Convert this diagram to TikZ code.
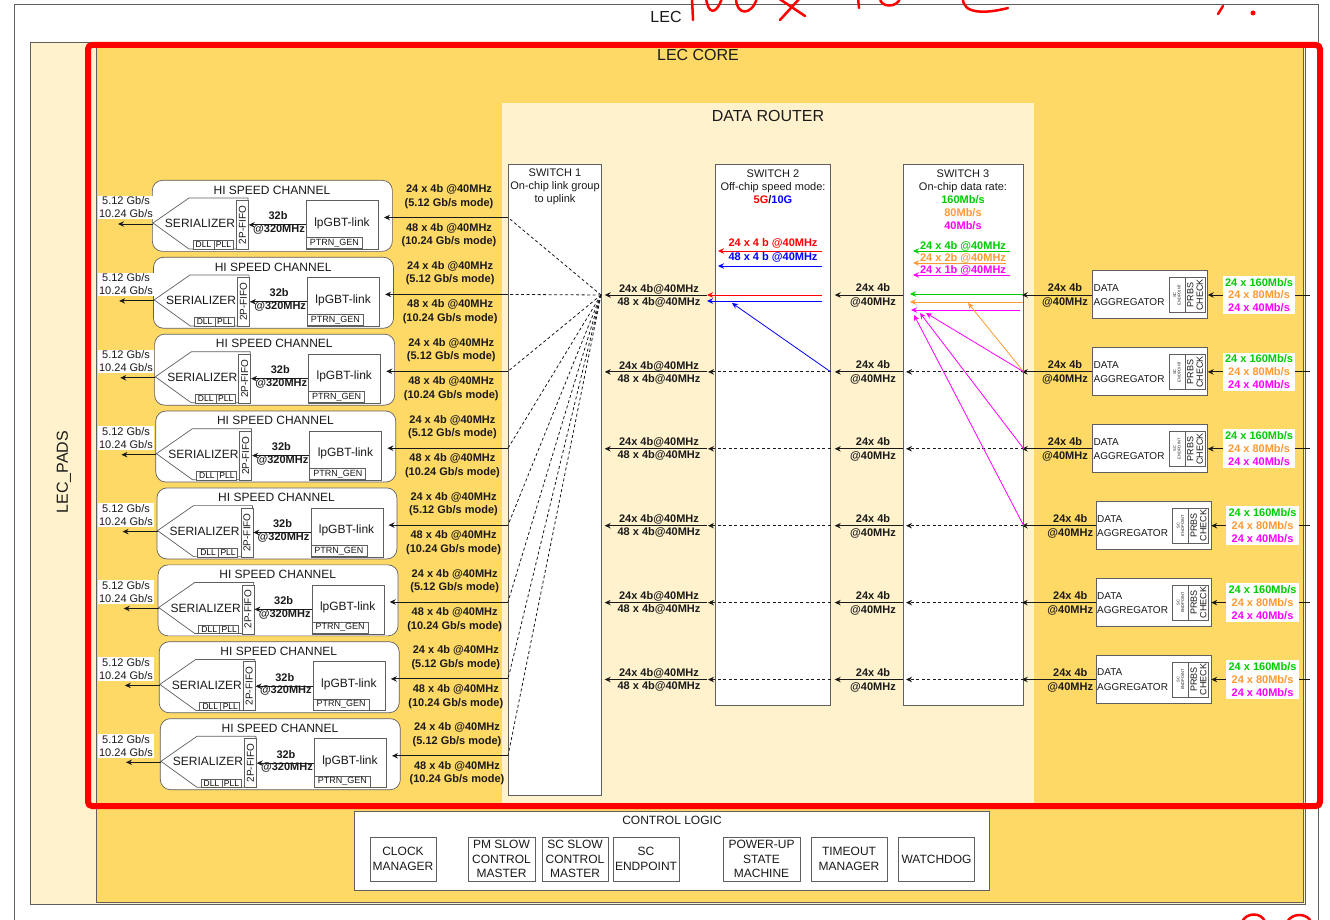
\documentclass[tikz,border=0pt]{standalone}
\usepackage{fontspec}
\setmainfont{Liberation Sans}
\usetikzlibrary{arrows.meta}
\definecolor{cream}{HTML}{FFF2CC}
\definecolor{coreY}{HTML}{FFD966}
\definecolor{grn}{HTML}{00CC00}
\definecolor{org}{HTML}{FF9933}
\definecolor{mag}{HTML}{FF00FF}
\definecolor{blu}{HTML}{0000FF}
\definecolor{rd}{HTML}{FF0000}
\definecolor{bdr}{HTML}{5F5F5F}
\definecolor{txt}{HTML}{1A1A1A}
\begin{document}
\begin{tikzpicture}[x=1pt,y=-1pt,
 wb/.style={draw=bdr, fill=white, line width=0.7pt},
 t12/.style={font=\fontsize{12}{14.5}\selectfont, inner sep=0pt, align=center, text=txt},
 t11/.style={font=\fontsize{11}{13}\selectfont, inner sep=0pt, align=center, text=txt},
 t10/.style={font=\fontsize{10}{12}\selectfont, inner sep=0pt, text=txt},
 t9/.style={font=\fontsize{9}{10}\selectfont, inner sep=0pt, align=center, text=txt},
 b11/.style={font=\fontsize{11}{13.5}\selectfont\bfseries, inner sep=0pt, align=center, text=txt},
 t16/.style={font=\fontsize{16}{18}\selectfont, inner sep=0pt, text=txt},
 arr/.style={-{Stealth[length=6pt,width=5.5pt]}, line width=0.9pt, draw=txt},
 carr/.style={-{Stealth[length=6pt,width=5.5pt]}, line width=0.9pt},
 dln/.style={line width=0.8pt, draw=txt, dash pattern=on 3pt off 2.5pt},
 darr/.style={arr, dash pattern=on 3pt off 2.5pt},
]
\useasboundingbox (0,0) rectangle (1330,920);
\fill[white] (0,0) rectangle (1330,920);

% outer LEC frame
\draw[draw=bdr, line width=0.8pt] (14,4) rectangle (1318,940);
\node[t16] (lec) at (666,17) {LEC};

% LEC pads and core
\node[draw=bdr, fill=cream, line width=0.7pt, anchor=north west, minimum width=1275pt, minimum height=862pt, inner sep=0pt] (pads) at (30,42) {};
\node[t16, rotate=90] (padslbl) at (64,472) {LEC\_PADS};
\node[draw=bdr, fill=coreY, line width=0.7pt, anchor=north west, minimum width=1207pt, minimum height=856pt, inner sep=0pt] (core) at (96,46) {};
\node[t16] (corelbl) at (698,55) {LEC CORE};

% data router
\fill[cream] (502,103) rectangle (1034,806);
\node[t16] (drlbl) at (768,116) {DATA ROUTER};

% switches
\node[wb, anchor=north west, minimum width=93pt, minimum height=631pt, inner sep=0pt] (sw1) at (508,164) {};
\node[wb, anchor=north west, minimum width=115pt, minimum height=541pt, inner sep=0pt] (sw2) at (715,164) {};
\node[wb, anchor=north west, minimum width=120pt, minimum height=541pt, inner sep=0pt] (sw3) at (903,164) {};
\node[t11] (sw1t) at (555,187) {SWITCH 1\\On-chip link group\\to uplink};
\node[t11] (sw2t) at (773,187) {SWITCH 2\\Off-chip speed mode:\\\textbf{\textcolor{rd}{5G}/\textcolor{blu}{10G}}};
\node[t11] (sw3t) at (963,200) {SWITCH 3\\On-chip data rate:\\\textbf{\textcolor{grn}{160Mb/s}}\\\textbf{\textcolor{org}{80Mb/s}}\\\textbf{\textcolor{mag}{40Mb/s}}};

% switch 2 legend
\node[b11, text=rd] (l2r) at (773,243) {24 x 4 b @40MHz};
\node[b11, text=blu] (l2b) at (773,257) {48 x 4 b @40MHz};
\coordinate (l2r1) at (822,251); \coordinate (l2r2) at (718,251);
\coordinate (l2b1) at (822,266); \coordinate (l2b2) at (718,266);
\draw[carr, draw=rd] (l2r1) -- (l2r2);
\draw[carr, draw=blu] (l2b1) -- (l2b2);

% switch 3 legend
\node[b11, text=grn] (l3g) at (963,246) {24 x 4b @40MHz};
\node[b11, text=org] (l3o) at (963,258) {24 x 2b @40MHz};
\node[b11, text=mag] (l3m) at (963,270) {24 x 1b @40MHz};
\coordinate (l3g1) at (1010,251); \coordinate (l3g2) at (913,251);
\coordinate (l3o1) at (1006,263); \coordinate (l3o2) at (913,263);
\coordinate (l3m1) at (1010,275); \coordinate (l3m2) at (913,275);
\draw[carr, draw=grn] (l3g1) -- (l3g2);
\draw[carr, draw=org] (l3o1) -- (l3o2);
\draw[carr, draw=mag] (l3m1) -- (l3m2);

% fan point in switch 1
\coordinate (fan) at (601,295);

% hi speed channels
\foreach \k in {0,...,7}{
  \pgfmathsetmacro{\cy}{180+76.9*\k}
  \pgfmathsetmacro{\dx}{1.14*\k}
  \begin{scope}[shift={(\dx,\cy)}]
    \node[wb, rounded corners=10pt, minimum width=240pt, minimum height=71pt, anchor=north west, inner sep=0pt] (hs\k) at (152,0) {};
    \node[t12] (hst\k) at (272,10) {HI SPEED CHANNEL};
    \draw[wb] (153,43) -- (189,18) -- (248,18) -- (248,69) -- (189,69) -- cycle;
    \coordinate (tip\k) at (153,44);
    \node[t12] (ser\k) at (200,43.5) {SERIALIZER};
    \node[wb, anchor=north west, minimum width=12pt, minimum height=49pt, inner sep=0pt] (fifo\k) at (236,20) {};
    \node[font=\fontsize{10}{11}\selectfont, inner sep=0pt, text=txt, rotate=90] at (fifo\k.center) {2P-FIFO};
    \node[wb, minimum width=21pt, minimum height=8.5pt, inner sep=0pt, font=\fontsize{8.5}{9}\selectfont] (dll\k) at (203.5,65) {DLL};
    \node[wb, minimum width=19pt, minimum height=8.5pt, inner sep=0pt, font=\fontsize{8.5}{9}\selectfont] (pll\k) at (223.5,65) {PLL};
    \node[wb, anchor=north west, minimum width=72pt, minimum height=49pt, inner sep=0pt] (lp\k) at (306,20) {};
    \node[t12] (lpt\k) at (342,43) {lpGBT-link};
    \node[wb, anchor=south west, minimum width=56pt, minimum height=11pt, inner sep=0pt] (pg\k) at (306,69) {};
    \node[t9] at (pg\k.center) {PTRN\_GEN};
    \draw[arr] (lp\k.west) -- (fifo\k.east);
    \node[b11] (l32a\k) at (278,36) {32b};
    \node[b11] (l32b\k) at (279,49.5) {@320MHz};
    \coordinate (out\k) at (118,44);
    \draw[arr] (tip\k) -- (out\k);
    \coordinate (in\k) at (384,37.5);
    \node[b11] (lia\k) at (449,16.5) {24 x 4b @40MHz\\(5.12 Gb/s mode)};
    \node[b11] (lib\k) at (449,55) {48 x 4b @40MHz\\(10.24 Gb/s mode)};
  \end{scope}
  \node[t11, fill=white, inner sep=1.2pt, font=\fontsize{11}{13}\selectfont] (rate\k) at (126,\cy+27.5) {5.12 Gb/s\\10.24 Gb/s};
  \coordinate (s1l\k) at (508,\cy+37.5);
  \draw[arr] (s1l\k) -- (in\k);
  \draw[dln] (fan) -- (s1l\k);
}

% data rows through switches and aggregators
\foreach \r in {0,...,5}{
  \pgfmathsetmacro{\ry}{295+76.9*\r}
  \pgfmathsetmacro{\sh}{ifthenelse(\r>2,3.5,0)}
  \coordinate (r\r) at (0,\ry);
  % aggregator
  \node[wb, anchor=west, minimum width=115pt, minimum height=48pt, inner sep=0pt] (ag\r) at (1092+\sh,\ry-0.5) {};
  \node[t10, anchor=west] (agd\r) at (1093.5+\sh,\ry-7) {DATA};
  \node[t10, anchor=west] (aga\r) at (1093.5+\sh,\ry+7.5) {AGGREGATOR};
  \node[wb, minimum width=16pt, minimum height=35pt, inner sep=0pt] (sce\r) at (1177+\sh,\ry) {};
  \node[rotate=90, font=\fontsize{4}{4.5}\selectfont, align=center, inner sep=0pt, text=txt] at (sce\r) {SC\\ENDPOINT};
  \node[wb, minimum width=20pt, minimum height=35pt, inner sep=0pt] (prb\r) at (1195+\sh,\ry) {};
  \node[rotate=90, font=\fontsize{9}{9.5}\selectfont, align=center, inner sep=0pt, text=txt] at (prb\r) {PRBS\\CHECK};
  \coordinate (src\r) at (1310,\ry);
  \draw[arr] (src\r) -- (ag\r.east |- r\r);
  \node[fill=white, inner sep=2.5pt, align=center, font=\fontsize{11}{12.8}\selectfont\bfseries] (rl\r) at (1259+\sh,\ry) {\textcolor{grn}{24 x 160Mb/s}\\\textcolor{org}{24 x 80Mb/s}\\\textcolor{mag}{24 x 40Mb/s}};
  % aggregator -> switch 3
  \draw[arr, shorten >=-2pt] (ag\r.west |- r\r) -- (sw3.east |- r\r);
  \node[b11] (ala\r) at (1065+1.5*\sh,\ry-7) {24x 4b};
  \node[b11] (alb\r) at (1065+1.5*\sh,\ry+7.5) {@40MHz};
  % switch 3 -> switch 2
  \draw[arr, shorten >=4pt] (sw3.west |- r\r) -- (sw2.east |- r\r);
  \node[b11] (mla\r) at (873,\ry-7) {24x 4b};
  \node[b11] (mlb\r) at (873,\ry+7.5) {@40MHz};
  % switch 2 -> switch 1
  \coordinate (s2o\r) at (707,\ry);
  \draw[arr, shorten >=3pt] (s2o\r) -- (sw1.east |- r\r);
  \node[b11, font=\fontsize{11}{13}\selectfont\bfseries] (lla\r) at (659,\ry+0.5) {24x 4b@40MHz\\48 x 4b@40MHz};
}

% dashed paths inside switches 2 and 3 (rows 2-6)
\foreach \r in {1,...,5}{
  \coordinate (s3i\r) at (906,295+76.9*\r);
  \draw[darr] (sw3.east |- r\r) -- (s3i\r);
  \coordinate (s2i\r) at (708,295+76.9*\r);
  \draw[darr] (sw2.east |- r\r) -- (s2i\r);
}

% row 1 coloured paths in switch 2
\coordinate (s2red1) at (822,295); \coordinate (s2red2) at (707,295);
\coordinate (s2blu1) at (822,301); \coordinate (s2blu2) at (707,301);
\draw[carr, draw=rd] (s2red1) -- (s2red2);
\draw[carr, draw=blu] (s2blu1) -- (s2blu2);
\coordinate (s2bd) at (732,303);
\draw[carr, draw=blu, line width=0.8pt] (sw2.east |- r1) -- (s2bd);

% row 1 coloured paths in switch 3
\coordinate (g1) at (1023,294); \coordinate (g2) at (910,294);
\coordinate (o1) at (1023,302); \coordinate (o2) at (910,302);
\coordinate (m1) at (1020,310); \coordinate (m2) at (911,310);
\draw[carr, draw=grn] (g1) -- (g2);
\draw[carr, draw=org] (o1) -- (o2);
\draw[carr, draw=mag] (m1) -- (m2);
\coordinate (od) at (968,303);
\draw[carr, draw=org, line width=0.8pt] (sw3.east |- r1) -- (od);
\coordinate (md1) at (926,313);
\coordinate (md2) at (920,313);
\coordinate (md3) at (914,315);
\draw[carr, draw=mag, line width=0.8pt] (sw3.east |- r1) -- (md1);
\draw[carr, draw=mag, line width=0.8pt] (sw3.east |- r2) -- (md2);
\draw[carr, draw=mag, line width=0.8pt] (sw3.east |- r3) -- (md3);

% control logic
\node[wb, anchor=north west, minimum width=635pt, minimum height=79pt, inner sep=0pt] (ctl) at (354,811) {};
\node[t12] (ctlt) at (672,820) {CONTROL LOGIC};
\tikzset{cb/.style={wb, t12, minimum height=44pt, inner sep=0pt}}
\node[cb, minimum width=66pt] (clk) at (403,859) {CLOCK\\MANAGER};
\node[cb, minimum width=67pt] (pms) at (501.5,859) {PM SLOW\\CONTROL\\MASTER};
\node[cb, minimum width=66pt] (scs) at (575,859) {SC SLOW\\CONTROL\\MASTER};
\node[cb, minimum width=66pt] (sce) at (646,859) {SC\\ENDPOINT};
\node[cb, minimum width=77pt] (pwr) at (761.5,859) {POWER-UP\\STATE\\MACHINE};
\node[cb, minimum width=76pt] (tmo) at (849,859) {TIMEOUT\\MANAGER};
\node[cb, minimum width=76pt] (wdg) at (936.5,859) {WATCHDOG};

% red annotation frame
\draw[rd, line width=6pt, rounded corners=4pt] (88,45) rectangle (1320,806);

% red handwriting
\begin{scope}[rd, line width=2.5pt, line cap=round, line join=round]
\draw (692,-2) -- (693,20);
\draw (706,-2) .. controls (708,14) and (716,16) .. (722,-2);
\draw (736,-2) .. controls (736,16) and (752,16) .. (757,-2);
\draw (780,20) -- (800,-2);
\draw (778,-2) -- (805,16);
\draw (858,-2) -- (859,8);
\draw (880,-2) .. controls (880,8) and (898,8) .. (900,-2);
\draw (963,-2) .. controls (962,14) and (985,14) .. (1008,8);
\draw (1218,14) -- (1223,6);
\fill (1253,13) circle (2.5pt);
\draw (1242,922) .. controls (1246,912) and (1262,912) .. (1265,922);
\draw (1287,922) .. controls (1292,913) and (1305,913) .. (1310,920);
\end{scope}
\end{tikzpicture}
\end{document}
